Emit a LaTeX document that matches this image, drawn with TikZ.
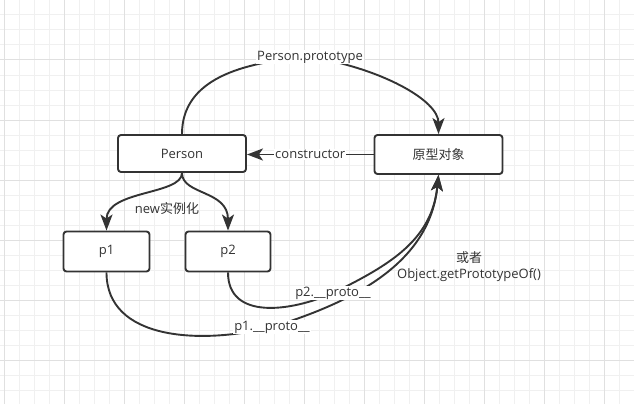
\documentclass[tikz,border=0pt]{standalone}
\usepackage{fontspec}
\setmainfont{Open Sans}
\newfontfamily\cjk{Noto Sans CJK SC}
\usetikzlibrary{arrows.meta}
\definecolor{ink}{HTML}{333333}
\definecolor{gridthin}{HTML}{F0F0F0}
\definecolor{gridthick}{HTML}{E0E0E0}
\begin{document}
\begin{tikzpicture}[x=1pt,y=-1pt,
  every node/.style={text=ink,font=\fontsize{13}{16}\selectfont},
  box/.style={draw=ink,line width=1.9pt,rounded corners=3pt,fill=white,inner sep=0pt},
  conn/.style={draw=ink,line width=1.9pt,-{Stealth[length=16pt,width=12pt,inset=4pt]}},
  lbl/.style={fill=white,inner sep=1pt},
  plain/.style={inner sep=0pt,align=center}]
\fill[white] (0,0) rectangle (634,404);
\useasboundingbox (0,0) rectangle (634,404);
% grid
\foreach \x in {4,19,...,634} \draw[gridthin,line width=1pt] (\x,0) -- (\x,404);
\foreach \y in {0,15,...,404} \draw[gridthin,line width=1pt] (0,\y) -- (634,\y);
\foreach \x in {4,64,...,634} \draw[gridthick,line width=1pt] (\x,0) -- (\x,404);
\foreach \y in {0,60,...,404} \draw[gridthick,line width=1pt] (0,\y) -- (634,\y);
% nodes
\node[box,minimum width=128pt,minimum height=37pt] (person) at (182,153.5) {Person};
\node[box,minimum width=128pt,minimum height=39pt] (yx) at (438.5,154.5) {\cjk 原型对象};
\node[box,minimum width=86pt,minimum height=40pt] (p1) at (106.5,251.5) {p1};
\node[box,minimum width=85pt,minimum height=40pt] (p2) at (228,251.5) {p2};
% waypoints
\coordinate (wpp) at (310,57);
\coordinate (wp1) at (272,327);
\coordinate (wp2) at (333,293);
% connectors
\draw[conn] (person.north) .. controls (182,80) and (240,62) .. (wpp)
  node[lbl] {Person.prototype}
  .. controls (380,68) and (438.5,100) .. (yx.north);
\draw[conn] (yx.west) -- (yx.west -| person.east)
  node[lbl,pos=0.5] {constructor};
\draw[conn] (person.south) .. controls (182,195) and (106.5,190) .. (p1.north);
\draw[conn] (person.south) .. controls (182,195) and (228,190) .. (p2.north);
\node[plain] (newlbl) at (167,209) {new{\cjk 实例化}};
\draw[conn] (p1.south) .. controls (106.5,340) and (200,345) .. (wp1)
  node[lbl] {p1.\_\_proto\_\_}
  .. controls (360,300) and (430,260) .. (yx.south);
\draw[conn] (p2.south) .. controls (228,320) and (290,312) .. (wp2)
  node[lbl] {p2.\_\_proto\_\_}
  .. controls (390,265) and (432,240) .. (yx.south);
\node[plain] (note) at (469,267) {{\cjk 或者}\\Object.getPrototypeOf()};
\end{tikzpicture}
\end{document}
